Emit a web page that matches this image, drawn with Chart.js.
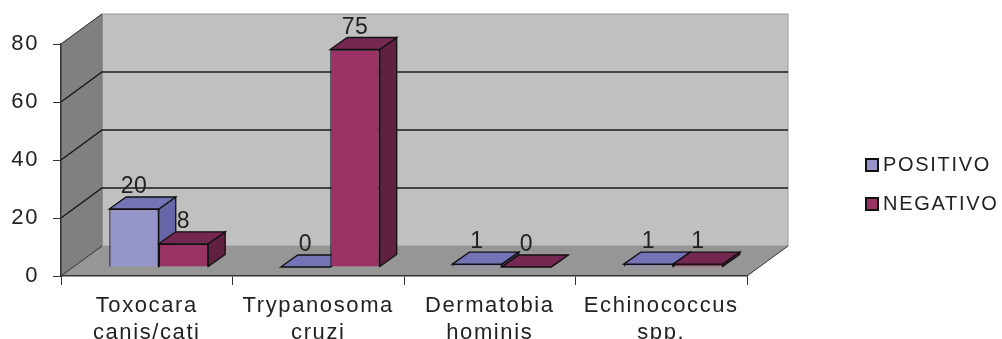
<!DOCTYPE html>
<html lang="es">
<head>
    <meta charset="UTF-8">
    <title>Parasitos</title>
    <script src="https://cdn.jsdelivr.net/npm/chart.js"></script>
    <style>
        html, body { margin: 0; padding: 0; background: #fff; overflow: hidden; }
        #wrap { width: 1002px; height: 339px; }
        #chart { filter: blur(0.4px); }
    </style>
</head>
<body>
    <div id="wrap"><canvas id="chart" width="1002" height="339"></canvas></div>
    <script>
        const categories = [['Toxocara', 'canis/cati'], ['Trypanosoma', 'cruzi'], ['Dermatobia', 'hominis'], ['Echinococcus', 'spp.']];
        const positivo = [20, 0, 1, 1];
        const negativo = [8, 75, 0, 1];
        const yTicks = [0, 20, 40, 60, 80];

        // fake 3D, all in px
        const WALL = { dx: 41, dy: 30 };
        const BAR_SHIFT = { dx: 12, dy: 9 };
        const BAR_DEPTH = { dx: 17, dy: 12 };
        const FONT = '"Liberation Sans", Arial, sans-serif';
        const TEXT = '#222';
        const EDGE = '#111';

        const shades = [
            { front: '#9595c9', top: '#7373b6', side: '#6666a8' },
            { front: '#993366', top: '#742750', side: '#602040' },
        ];

        function poly(ctx, pts, fill, stroke, lw) {
            ctx.beginPath();
            pts.forEach((p, i) => i ? ctx.lineTo(p[0], p[1]) : ctx.moveTo(p[0], p[1]));
            ctx.closePath();
            ctx.fillStyle = fill;
            ctx.fill();
            if (stroke) {
                ctx.strokeStyle = stroke;
                ctx.lineWidth = lw || 1;
                ctx.stroke();
            }
        }

        const box3d = {
            id: 'box3d',
            beforeDraw(chart) {
                const { ctx, chartArea: a, scales } = chart;
                ctx.letterSpacing = '1.6px';
                const dx = WALL.dx, dy = WALL.dy;
                // walls and floor
                poly(ctx, [[a.left + dx, a.top - dy], [a.right + dx, a.top - dy], [a.right + dx, a.bottom - dy], [a.left + dx, a.bottom - dy]], '#c0c0c0', '#999', 1);
                poly(ctx, [[a.left, a.top], [a.left + dx, a.top - dy], [a.left + dx, a.bottom - dy], [a.left, a.bottom]], '#808080', '#777', 1);
                poly(ctx, [[a.left, a.bottom], [a.right, a.bottom], [a.right + dx, a.bottom - dy], [a.left + dx, a.bottom - dy]], '#969696');
                // gridlines go round the left wall and the back wall
                ctx.strokeStyle = '#1a1a1a';
                ctx.lineWidth = 1.5;
                scales.y.ticks.forEach(t => {
                    if (t.value === 0 || t.value === scales.y.max) return;
                    const y = scales.y.getPixelForValue(t.value);
                    ctx.beginPath();
                    ctx.moveTo(a.left, y);
                    ctx.lineTo(a.left + dx, y - dy);
                    ctx.lineTo(a.right + dx, y - dy);
                    ctx.stroke();
                });
                ctx.beginPath();
                ctx.moveTo(a.left, a.bottom);
                ctx.lineTo(a.left + dx, a.bottom - dy);
                ctx.moveTo(a.left, a.top);
                ctx.lineTo(a.left + dx, a.top - dy);
                ctx.moveTo(a.right, a.bottom);
                ctx.lineTo(a.right + dx, a.bottom - dy);
                ctx.strokeStyle = '#333';
                ctx.lineWidth = 1;
                ctx.stroke();
            },
            // Chart.js paints the first dataset last, here the left bar must go first
            beforeDatasetsDraw(chart) {
                const ctx = chart.ctx;
                const d = BAR_DEPTH;
                ctx.save();
                ctx.translate(BAR_SHIFT.dx, BAR_SHIFT.dy * -1);
                chart.data.datasets.forEach((ds, i) => {
                    const c = shades[i];
                    chart.getDatasetMeta(i).data.forEach(bar => {
                        const l = bar.x - bar.width / 2, r = bar.x + bar.width / 2;
                        poly(ctx, [[r, bar.y], [r + d.dx, bar.y - d.dy], [r + d.dx, bar.base - d.dy], [r, bar.base]], c.side, EDGE, 1.3);
                        poly(ctx, [[l, bar.y], [l + d.dx, bar.y - d.dy], [r + d.dx, bar.y - d.dy], [r, bar.y]], c.top, EDGE, 1.3);
                        bar.draw(ctx);
                    });
                });
                ctx.restore();
                return false;
            },
            afterDraw(chart) {
                const ctx = chart.ctx;
                // value labels
                ctx.save();
                ctx.font = '23px ' + FONT;
                ctx.letterSpacing = '0.5px';
                ctx.fillStyle = TEXT;
                ctx.textAlign = 'center';
                ctx.textBaseline = 'alphabetic';
                chart.data.datasets.forEach((ds, i) => {
                    chart.getDatasetMeta(i).data.forEach((bar, j) => {
                        ctx.fillText(String(ds.data[j]), bar.x + BAR_SHIFT.dx, bar.y - BAR_SHIFT.dy - 16);
                    });
                });
                // legend
                ctx.font = '20px ' + FONT;
                ctx.letterSpacing = '1.7px';
                ctx.textAlign = 'left';
                chart.data.datasets.forEach((ds, i) => {
                    const y = 171 + i * 39;
                    ctx.fillStyle = ds.backgroundColor;
                    ctx.strokeStyle = EDGE;
                    ctx.lineWidth = 2;
                    ctx.fillRect(866, y - 12, 12, 12);
                    ctx.strokeRect(866, y - 12, 12, 12);
                    ctx.fillStyle = TEXT;
                    ctx.fillText(ds.label, 883, y);
                });
                ctx.restore();
            },
        };

        new Chart(document.getElementById('chart'), {
            type: 'bar',
            data: {
                labels: categories,
                datasets: [
                    { label: 'POSITIVO', data: positivo, backgroundColor: shades[0].front, borderColor: EDGE, borderWidth: 1.3 },
                    { label: 'NEGATIVO', data: negativo, backgroundColor: shades[1].front, borderColor: EDGE, borderWidth: 1.3 },
                ],
            },
            options: {
                responsive: false,
                animation: false,
                events: [],
                layout: { padding: { top: 44, right: 255, left: 0, bottom: 0 } },
                categoryPercentage: 0.577,
                barPercentage: 1,
                plugins: { legend: { display: false }, tooltip: { enabled: false } },
                scales: {
                    x: {
                        afterFit: s => { s.height = 63; },
                        border: { color: '#333', width: 1.5 },
                        grid: { drawOnChartArea: false, color: '#333', tickLength: 9 },
                        ticks: {
                            autoSkip: false, maxRotation: 0, minRotation: 0, padding: 8,
                            color: TEXT, font: { family: FONT, size: 22, lineHeight: 1.22 },
                        },
                    },
                    y: {
                        min: 0,
                        max: 80,
                        afterFit: s => { s.width = 61; },
                        afterBuildTicks: s => { s.ticks = yTicks.map(value => ({ value })); },
                        border: { color: '#333', width: 1.5 },
                        grid: { drawOnChartArea: false, color: '#333', tickLength: 8 },
                        ticks: { padding: 14, color: TEXT, font: { family: FONT, size: 22 } },
                    },
                },
            },
            plugins: [box3d],
        });
    </script>
</body>
</html>
